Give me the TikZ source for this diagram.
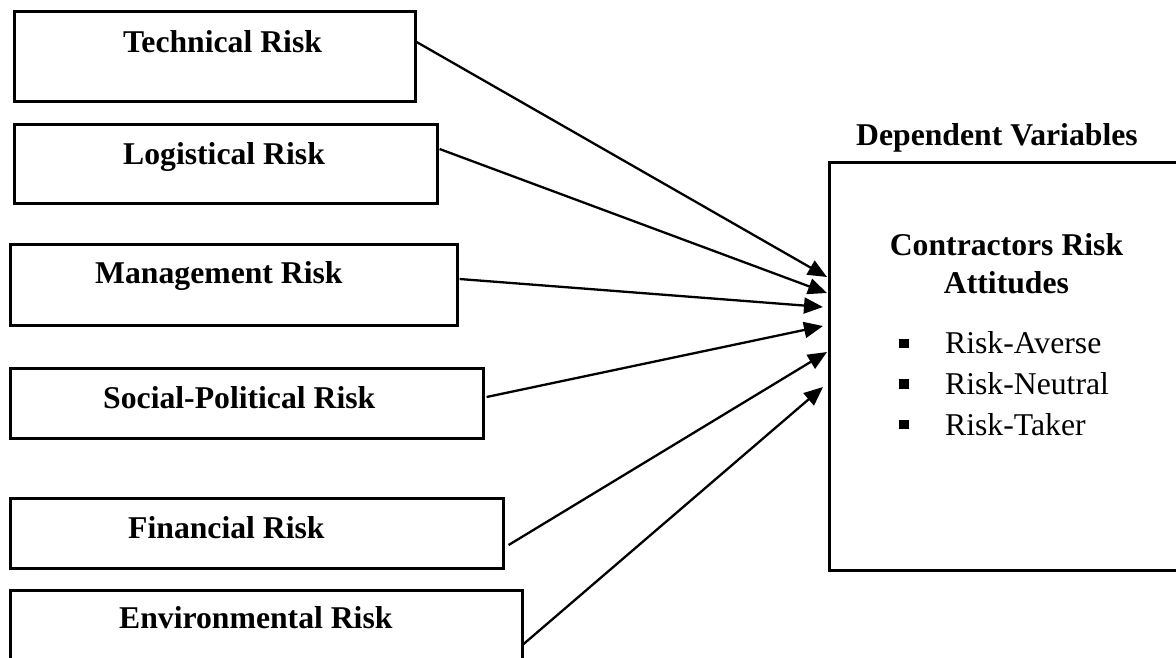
\documentclass[tikz,border=0pt]{standalone}
\usepackage{fontspec}
\setmainfont{Liberation Serif}
\usetikzlibrary{arrows.meta,calc}
\begin{document}
\begin{tikzpicture}[x=1pt,y=-1pt,
  riskbox/.style={draw=black,line width=2.6pt,inner sep=0pt,anchor=north west},
  lbl/.style={inner sep=0pt,anchor=base west,font=\fontsize{31.7}{38}\selectfont\bfseries},
  itemtxt/.style={inner sep=0pt,anchor=base west,font=\fontsize{31.7}{38}\selectfont},
  titletxt/.style={inner sep=0pt,anchor=base,font=\fontsize{31.7}{38}\selectfont\bfseries},
  bulletsq/.style={fill=black,inner sep=0pt,minimum size=9.5pt},
  conn/.style={line width=2.3pt,-{Triangle[length=19pt,width=16pt]}}]
\useasboundingbox (0,0) rectangle (1176,657);
% independent variable boxes
\node[riskbox,minimum width=401pt,minimum height=90pt] (tech) at (13,10) {};
\node[riskbox,minimum width=423pt,minimum height=79pt] (logi) at (13,123) {};
\node[riskbox,minimum width=447pt,minimum height=81pt] (mgmt) at (9,243) {};
\node[riskbox,minimum width=473pt,minimum height=70pt] (soci) at (9,367) {};
\node[riskbox,minimum width=493pt,minimum height=70pt] (fina) at (9,497) {};
\node[riskbox,minimum width=512pt,minimum height=120pt] (envi) at (9,589) {};
% labels
\node[lbl] (techl) at (123,52) {Technical Risk};
\node[lbl] (logil) at (123,164) {Logistical Risk};
\node[lbl] (mgmtl) at (95,283) {Management Risk};
\node[lbl] (socil) at (103,408) {Social-Political Risk};
\node[lbl] (final) at (128,538) {Financial Risk};
\node[lbl] (envil) at (119,628) {Environmental Risk};
% dependent box
\node[riskbox,minimum width=360pt,minimum height=408pt] (dep) at (828,161) {};
\node[lbl] (deptitle) at (856,145) {Dependent Variables};
\node[titletxt] (dep1) at (1006.5,255) {Contractors Risk};
\node[titletxt] (dep2) at (1006.5,293) {Attitudes};
\node[bulletsq] (b1) at (904,343.5) {};
\node[bulletsq] (b2) at (904,384) {};
\node[bulletsq] (b3) at (904,424.5) {};
\node[itemtxt] (i1) at (945,353) {Risk-Averse};
\node[itemtxt] (i2) at (945,394) {Risk-Neutral};
\node[itemtxt] (i3) at (945,435) {Risk-Taker};
% connectors
\draw[conn] ([yshift=-32pt]tech.north east) -- ([xshift=-1pt,yshift=-116pt]dep.north west);
\draw[conn] ([xshift=1pt,yshift=-26pt]logi.north east) -- ([xshift=-1pt,yshift=-132pt]dep.north west);
\draw[conn] ([xshift=1pt,yshift=-36pt]mgmt.north east) -- ([xshift=-5pt,yshift=-146pt]dep.north west);
\draw[conn] ([xshift=2pt,yshift=-30pt]soci.north east) -- ([xshift=-5pt,yshift=-165pt]dep.north west);
\draw[conn] ([xshift=4pt,yshift=-48pt]fina.north east) -- ([xshift=-1pt,yshift=-191pt]dep.north west);
\draw[conn] ([xshift=0pt,yshift=-55pt]envi.north east) -- ([xshift=-5pt,yshift=-226pt]dep.north west);
\end{tikzpicture}
\end{document}
